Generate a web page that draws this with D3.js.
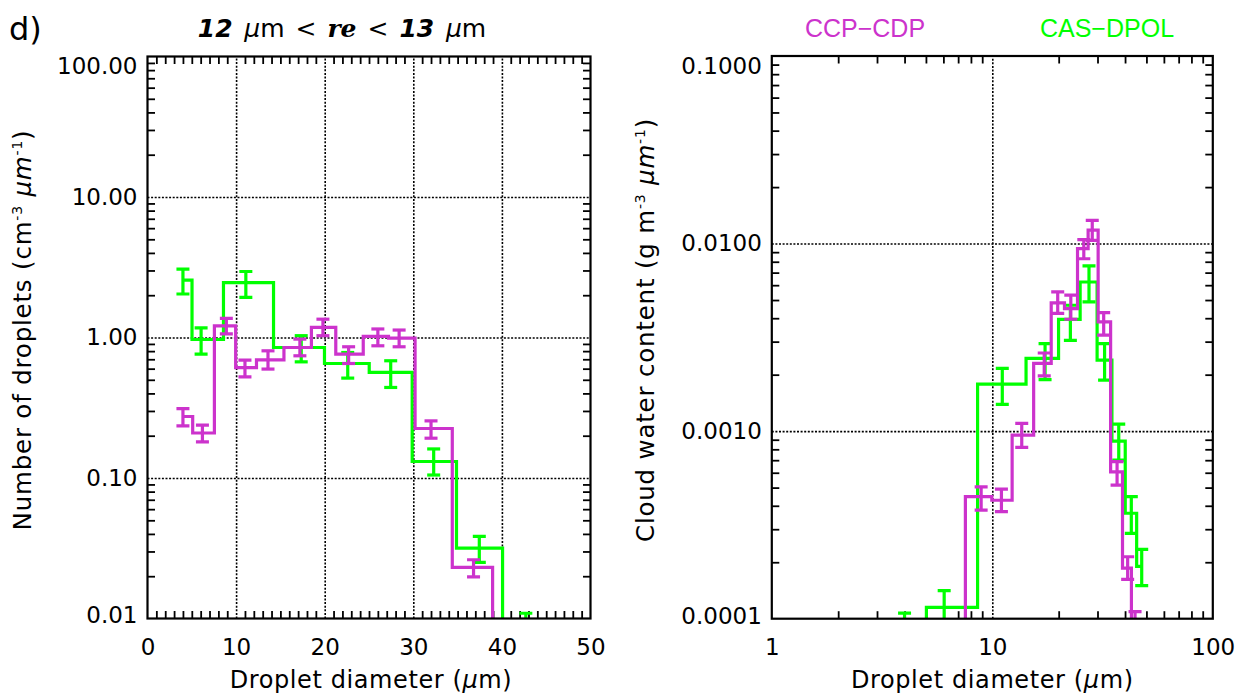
<!DOCTYPE html>
<html>
<head>
<meta charset="utf-8">
<script src="https://cdn.jsdelivr.net/npm/d3@7"></script>
<style>
  html, body { margin: 0; padding: 0; background: #ffffff; }
  svg { display: block; }
</style>
</head>
<body>
<svg id="fig" width="1252" height="697"></svg>
<script>
// ---- Size-bin centres (µm) for the two probes ----
const cdpDiameter = [4.0, 6.2, 8.9, 11.0, 13.6, 17.2, 19.8, 22.7, 26.0, 28.4, 32.0, 36.8, 41.1, 44.4];
const casDiameter = [4.0, 6.05, 11.1, 17.35, 22.6, 27.45, 32.3, 37.45, 42.7, 47.6];

// ---- Number concentration (cm^-3 µm^-1) with lower / upper error ----
const cdpNumber   = [0.274, 0.209, 1.21, 0.611, 0.694, 0.849, 1.18, 0.762, 1.02, 0.99, 0.225, 0.0231, 0.0053, 0.0012];
const cdpNumberLo = [0.235, 0.181, 1.06, 0.525, 0.596, 0.741, 1.03, 0.653, 0.873, 0.859, 0.192, 0.0198, 0.0046, 0.0009];
const cdpNumberHi = [0.312, 0.238, 1.37, 0.690, 0.804, 0.974, 1.35, 0.859, 1.15, 1.13, 0.255, 0.0262, 0.0060, 0.0015];

const casNumber   = [2.56, 0.968, 2.46, 0.849, 0.653, 0.564, 0.131, 0.0317, 0.0085, 0.0037];
const casNumberLo = [2.04, 0.762, 1.93, 0.671, 0.514, 0.441, 0.105, 0.0251, 0.0065, 0.0029];
const casNumberHi = [3.07, 1.17, 2.95, 1.03, 0.782, 0.683, 0.161, 0.0384, 0.0109, 0.0045];

// ---- Cloud water content (g m^-3 µm^-1) with lower / upper error ----
const cdpWater   = [0.0000090, 0.000026, 0.000447, 0.000428, 0.000953, 0.00230, 0.00483, 0.00450, 0.00940, 0.0118, 0.00382, 0.000607, 0.000186, 0.000090];
const cdpWaterLo = [0.0000077, 0.000022, 0.000379, 0.000372, 0.000819, 0.00197, 0.00424, 0.00395, 0.00830, 0.0104, 0.00325, 0.000515, 0.000162, 0.000070];
const cdpWaterHi = [0.0000103, 0.000030, 0.000505, 0.000491, 0.00110, 0.00261, 0.00552, 0.00531, 0.01050, 0.0133, 0.00428, 0.000687, 0.000214, 0.000109];

const casWater   = [0.000084, 0.000115, 0.00178, 0.00244, 0.00394, 0.00624, 0.00239, 0.000885, 0.000365, 0.000190];
const casWaterLo = [0.000069, 0.000088, 0.00139, 0.00188, 0.00305, 0.00489, 0.00187, 0.000700, 0.000285, 0.000150];
const casWaterHi = [0.000107, 0.000141, 0.00216, 0.00293, 0.00469, 0.00760, 0.00293, 0.00109,  0.000447, 0.000234];

// ---- Axis ticks and labels ----
const leftXTicks  = [0, 10, 20, 30, 40, 50];
const leftYTicks  = [0.01, 0.1, 1, 10, 100];
const leftYLabels = ["0.01", "0.10", "1.00", "10.00", "100.00"];
const rightXTicks  = [1, 10, 100];
const rightXLabels = ["1", "10", "100"];
const rightYTicks  = [0.0001, 0.001, 0.01, 0.1];
const rightYLabels = ["0.0001", "0.0010", "0.0100", "0.1000"];

const cdpColor = "#cc33cc";
const casColor = "#00ff00";
const FONT = "'DejaVu Sans', sans-serif";

const svg = d3.select("#fig");

// minor ticks of a log axis: 2..9 times each decade inside the domain
function logMinor(lo, hi) {
  const out = [];
  for (let e = Math.round(Math.log10(lo)); e < Math.round(Math.log10(hi)); e++)
    for (let k = 2; k <= 9; k++) out.push(k * Math.pow(10, e));
  return out;
}

// histogram-style steps: each level spans half-way to its neighbours
function stepPath(D, v, x, y) {
  const p = d3.path();
  p.moveTo(x(D[0]), y(v[0]));
  for (let i = 1; i < D.length; i++) {
    const m = (D[i - 1] + D[i]) / 2;
    p.lineTo(x(m), y(v[i - 1]));
    p.lineTo(x(m), y(v[i]));
  }
  p.lineTo(x(D[D.length - 1]), y(v[v.length - 1]));
  return p.toString();
}

function drawPanel(cfg) {
  const { id, left, top, width, height, x, y } = cfg;
  const g = svg.append("g").attr("transform", `translate(${left},${top})`);

  g.append("clipPath").attr("id", id)
    .append("rect").attr("x", 0).attr("y", 0).attr("width", width).attr("height", height);

  // dotted grid
  const grid = g.append("g");
  grid.append("g").attr("transform", `translate(0,${height})`)
    .call(d3.axisBottom(x).tickValues(cfg.gridX).tickSizeInner(-height).tickFormat(""));
  grid.append("g")
    .call(d3.axisLeft(y).tickValues(cfg.gridY).tickSizeInner(-width).tickFormat(""));
  grid.selectAll(".domain").remove();
  grid.selectAll("line").attr("stroke", "#000").attr("stroke-width", 1.6)
    .attr("stroke-dasharray", "2,1.6");

  // minor ticks on all four sides, pointing inward
  const ticks = g.append("g");
  ticks.append("g").attr("transform", `translate(0,${height})`)
    .call(d3.axisBottom(x).tickValues(cfg.minorX).tickSizeInner(-7.5).tickSizeOuter(0).tickFormat(""));
  ticks.append("g")
    .call(d3.axisTop(x).tickValues(cfg.minorX).tickSizeInner(-7.5).tickSizeOuter(0).tickFormat(""));
  ticks.append("g")
    .call(d3.axisLeft(y).tickValues(cfg.minorY).tickSizeInner(-7.5).tickSizeOuter(0).tickFormat(""));
  ticks.append("g").attr("transform", `translate(${width},0)`)
    .call(d3.axisRight(y).tickValues(cfg.minorY).tickSizeInner(-7.5).tickSizeOuter(0).tickFormat(""));
  ticks.selectAll(".domain").remove();
  ticks.selectAll("line").attr("stroke", "#000").attr("stroke-width", 1.8);

  // tick labels
  const xl = g.append("g").attr("transform", `translate(0,${height})`)
    .call(d3.axisBottom(x).tickValues(cfg.labelX).tickSize(0).tickPadding(20)
      .tickFormat((d, i) => cfg.labelXText[i]));
  const yl = g.append("g")
    .call(d3.axisLeft(y).tickValues(cfg.labelY).tickSize(0).tickPadding(10)
      .tickFormat((d, i) => cfg.labelYText[i]));
  [xl, yl].forEach(a => {
    a.select(".domain").remove();
    a.selectAll("text").attr("font-family", FONT).attr("font-size", 23).attr("fill", "#000");
  });
  // keep the end labels inside the frame height
  yl.selectAll(".tick text").attr("y", d => {
    const p = y(d);
    if (p < 10) return 10 - p;
    if (height - p < 3) return -3;
    return 0;
  });

  // data
  const data = g.append("g").attr("clip-path", `url(#${id})`);
  cfg.series.forEach(s => {
    data.append("path").attr("d", stepPath(s.D, s.v, x, y))
      .attr("fill", "none").attr("stroke", s.color).attr("stroke-width", 3.2)
      .attr("stroke-linejoin", "miter").attr("stroke-linecap", "butt");
    const eb = data.append("g").attr("stroke", s.color).attr("stroke-width", 3.2).attr("fill", "none");
    s.D.forEach((d, i) => {
      const cx = x(d), y0 = y(s.lo[i]), y1 = y(s.hi[i]);
      eb.append("line").attr("x1", cx).attr("x2", cx).attr("y1", y0).attr("y2", y1);
      eb.append("line").attr("x1", cx - 6.5).attr("x2", cx + 6.5).attr("y1", y0).attr("y2", y0);
      eb.append("line").attr("x1", cx - 6.5).attr("x2", cx + 6.5).attr("y1", y1).attr("y2", y1);
    });
  });

  // frame
  g.append("rect").attr("x", 0).attr("y", 0).attr("width", width).attr("height", height)
    .attr("fill", "none").attr("stroke", "#000").attr("stroke-width", 2.2);
  return g;
}

// ---- Left panel: droplet number ----
const L = { left: 147.5, top: 56.5, width: 443, height: 562 };
const xL = d3.scaleLinear().domain([0, 50]).range([0, L.width]);
const yL = d3.scaleLog().domain([0.01, 100]).range([L.height, 0]);
const minorXL = d3.range(1, 50).filter(v => v % 10 !== 0);

drawPanel({
  id: "clipL", ...L, x: xL, y: yL,
  gridX: [10, 20, 30, 40], gridY: [0.1, 1, 10],
  minorX: minorXL, minorY: logMinor(0.01, 100),
  labelX: leftXTicks, labelXText: leftXTicks.map(String),
  labelY: leftYTicks, labelYText: leftYLabels,
  series: [
    { D: casDiameter, v: casNumber, lo: casNumberLo, hi: casNumberHi, color: casColor },
    { D: cdpDiameter, v: cdpNumber, lo: cdpNumberLo, hi: cdpNumberHi, color: cdpColor }
  ]
});

// ---- Right panel: cloud water content ----
const R = { left: 771.8, top: 56, width: 441, height: 562.7 };
const xR = d3.scaleLog().domain([1, 100]).range([0, R.width]);
const yR = d3.scaleLog().domain([0.0001, 0.1]).range([R.height, 0]);

drawPanel({
  id: "clipR", ...R, x: xR, y: yR,
  gridX: [10], gridY: [0.001, 0.01],
  minorX: logMinor(1, 100), minorY: logMinor(0.0001, 0.1),
  labelX: rightXTicks, labelXText: rightXLabels,
  labelY: rightYTicks, labelYText: rightYLabels,
  series: [
    { D: casDiameter, v: casWater, lo: casWaterLo, hi: casWaterHi, color: casColor },
    { D: cdpDiameter, v: cdpWater, lo: cdpWaterLo, hi: cdpWaterHi, color: cdpColor }
  ]
});

// ---- Titles and axis titles ----
const txt = (x, y, size) => svg.append("text").attr("x", x).attr("y", y)
  .attr("font-family", FONT).attr("font-size", size).attr("fill", "#000");

txt(9, 40, 32).text("d)");

const title = txt(342, 37, 25).attr("text-anchor", "middle").attr("word-spacing", 3);
title.append("tspan").attr("font-weight", "bold").attr("font-style", "italic").text("12 ");
title.append("tspan").attr("font-style", "italic").text("μ");
title.append("tspan").text("m < ");
title.append("tspan").attr("font-weight", "bold").attr("font-style", "italic")
  .attr("font-family", "'DejaVu Serif', serif").text("re");
title.append("tspan").text(" < ");
title.append("tspan").attr("font-weight", "bold").attr("font-style", "italic").text("13 ");
title.append("tspan").attr("font-style", "italic").text("μ");
title.append("tspan").text("m");

function diameterTitle(cx) {
  const t = txt(cx, 688, 24).attr("text-anchor", "middle").attr("letter-spacing", 0.6);
  t.append("tspan").text("Droplet diameter (");
  t.append("tspan").attr("font-style", "italic").text("μ");
  t.append("tspan").text("m)");
}
diameterTitle(L.left + L.width / 2 + 2);
diameterTitle(R.left + R.width / 2);

function unitTitle(cx, cy, lead, unit) {
  const t = svg.append("text")
    .attr("transform", `translate(${cx},${cy}) rotate(-90)`)
    .attr("text-anchor", "middle").attr("letter-spacing", 0.8)
    .attr("font-family", FONT).attr("font-size", 24.5).attr("fill", "#000");
  t.append("tspan").text(lead + " (" + unit);
  t.append("tspan").attr("font-size", 14).attr("dy", -9).text("-3");
  t.append("tspan").attr("dy", 9).text(" ");
  t.append("tspan").attr("font-style", "italic").text("μ");
  t.append("tspan").attr("font-style", "italic").text("m");
  t.append("tspan").attr("font-size", 14).attr("dy", -9).text("-1");
  t.append("tspan").attr("dy", 9).text(")");
}
unitTitle(31, 330, "Number of droplets", "cm");
unitTitle(654, 330, "Cloud water content", "g m");

// legend
svg.append("text").attr("x", 865).attr("y", 37).attr("text-anchor", "middle")
  .attr("font-family", "'Liberation Sans', Arial, sans-serif").attr("font-size", 25)
  .attr("fill", cdpColor).text("CCP−CDP");
svg.append("text").attr("x", 1107).attr("y", 37).attr("text-anchor", "middle")
  .attr("font-family", "'Liberation Sans', Arial, sans-serif").attr("font-size", 25)
  .attr("fill", casColor).text("CAS−DPOL");
</script>
</body>
</html>
